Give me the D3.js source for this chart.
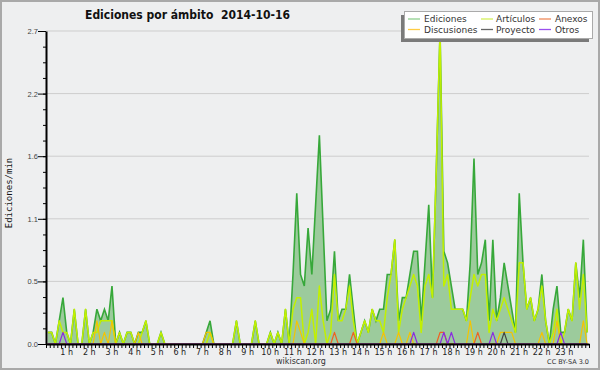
<!DOCTYPE html>
<html lang="es">
<head>
<meta charset="UTF-8">
<title>Ediciones por ámbito</title>
<script src="https://cdn.jsdelivr.net/npm/d3@7"></script>
<style>
    body { margin: 0; background: #eeeff0; }
    svg text { font-family: "DejaVu Sans", sans-serif; }
</style>
</head>
<body>
<div id="chart"></div>
<script>
    // 10-minute bins, edits per minute
    const ediciones = [
        0.1,0.1,0,0.2,0.4,0.1,0,0.3,0,0,0.3,0,
        0.1,0.3,0.2,0.3,0.2,0.5,0,0.1,0,0.1,0.1,0,
        0.1,0.1,0.2,0,0,0,0.1,0,0,0,0,0,
        0,0,0,0,0,0,0.1,0.2,0,0,0,0,
        0,0,0.2,0,0,0,0,0.2,0,0,0,0.1,
        0,0.1,0,0.3,0,0.6,1.3,0.6,0.5,1.0,0.6,1.2,
        1.8,1.0,0.2,0.3,0.8,0.2,0.3,0.3,0.6,0.3,0,0.1,
        0.2,0.1,0.3,0.2,0.3,0.3,0.6,0.6,0.9,0.2,0.4,0.4,
        0.6,0.8,0.8,0.2,0.7,1.2,0.4,1.5,2.7,0.8,0.7,0.5,
        0.3,0.3,0.3,0.2,0.7,1.6,0.6,0.7,0.9,0.2,0.9,0.2,
        0.4,0.7,0.5,0.3,0.1,1.3,0.7,0.3,0.4,0.2,0.3,0.6,
        0.2,0,0.3,0.5,0.1,0.1,0.3,0.2,0.7,0.4,0.9,0.1
    ];
    const articulos = [
        0.1,0.1,0,0.2,0.1,0.1,0,0.3,0,0,0.3,0,
        0.1,0.1,0.2,0.2,0.2,0.2,0,0.1,0,0.1,0.1,0,
        0,0.1,0.2,0,0,0,0.1,0,0,0,0,0,
        0,0,0,0,0,0,0,0.1,0,0,0,0,
        0,0,0.2,0,0,0,0,0.2,0,0,0,0.1,
        0,0.1,0,0.3,0,0.3,0.4,0.4,0,0.1,0.3,0,
        0.5,0.2,0,0.1,0.6,0.2,0.2,0.3,0.5,0.2,0,0.1,
        0.2,0.1,0.3,0.2,0.2,0.1,0.4,0.6,0.9,0.1,0.3,0.4,
        0.5,0.6,0.5,0.1,0.5,0.6,0.4,1.5,2.7,0.5,0.6,0.3,
        0.3,0.3,0.3,0.2,0.4,0.6,0.5,0.6,0.6,0.1,0.3,0.2,
        0.3,0.4,0.3,0.2,0.1,0.7,0.7,0.3,0.4,0.2,0.3,0.5,
        0.2,0,0.1,0.3,0,0.1,0.3,0.2,0.7,0.3,0.6,0.1
    ];
    const discusiones = [
        0,0,0,0,0,0,0,0,0,0,0,0,
        0,0.2,0,0.1,0,0.2,0,0,0,0,0,0,
        0.1,0,0,0,0,0,0,0,0,0,0,0,
        0,0,0,0,0,0,0.1,0.1,0,0,0,0,
        0,0,0,0,0,0,0,0,0,0,0,0,
        0,0,0,0,0,0,0.2,0.1,0,0,0,0,
        0,0,0,0,0,0,0,0,0,0,0,0,
        0,0,0,0,0,0.1,0,0,0,0.1,0,0,
        0.1,0,0,0,0,0,0,0,0,0,0,0,
        0,0,0,0,0.2,0,0,0,0,0,0,0,
        0.1,0.1,0.1,0.1,0,0,0,0,0,0,0,0.1,
        0,0,0,0.2,0,0,0,0,0,0,0.2,0
    ];
    const anexos = [
        0,0,0,0,0,0,0,0,0,0,0,0,
        0,0,0,0,0,0,0,0,0,0,0,0,
        0,0,0,0,0,0,0,0,0,0,0,0,
        0,0,0,0,0,0,0,0,0,0,0,0,
        0,0,0,0,0,0,0,0,0,0,0,0,
        0,0,0,0,0,0,0,0,0,0,0,0,
        0,0,0,0,0.1,0,0,0,0,0.1,0,0,
        0,0,0,0,0,0,0,0,0,0,0,0,
        0,0,0,0,0,0,0,0,0.1,0.1,0,0,
        0,0,0,0,0,0,0.1,0,0,0,0,0,
        0,0,0,0,0,0,0,0,0,0,0,0,
        0,0,0,0,0,0,0,0,0,0,0,0
    ];
    const proyecto = [
        0,0,0,0,0,0,0,0,0,0,0,0,
        0,0,0,0,0,0,0,0,0,0,0,0,
        0,0,0,0,0,0,0,0,0,0,0,0,
        0,0,0,0,0,0,0,0,0,0,0,0,
        0,0,0,0,0,0,0,0,0,0,0,0,
        0,0,0,0,0,0,0,0,0,0,0,0,
        0,0,0,0,0,0,0,0,0,0,0,0,
        0,0,0,0,0,0,0,0,0,0,0,0,
        0,0,0,0,0,0,0,0,0,0,0,0,
        0,0,0,0,0,0,0,0,0,0,0,0,
        0,0.1,0,0,0,0,0,0,0,0,0,0,
        0,0,0,0,0,0,0,0,0,0,0,0
    ];
    const otros = [
        0,0,0,0,0.1,0,0,0,0,0,0,0,
        0,0,0,0,0,0,0,0,0,0,0,0,
        0,0,0,0,0,0,0,0,0,0,0,0,
        0,0,0,0,0,0,0,0,0,0,0,0,
        0,0,0,0,0,0,0,0,0,0,0,0,
        0,0,0,0,0,0,0,0,0,0,0,0,
        0,0,0,0,0,0,0,0,0,0,0,0,
        0,0,0,0,0,0,0,0,0,0,0,0,
        0,0.1,0,0,0,0,0,0,0,0.1,0,0.1,
        0,0,0,0,0,0,0,0,0,0,0.1,0,
        0,0,0,0,0,0,0,0,0,0,0,0,
        0,0,0,0,0.1,0,0,0,0,0,0,0
    ];

    const hourTicks = [1,2,3,4,5,6,7,8,9,10,11,12,13,14,15,16,17,18,19,20,21,22,23];
    const hourLabels = ["1 h","2 h","3 h","4 h","5 h","6 h","7 h","8 h","9 h","10 h","11 h","12 h",
        "13 h","14 h","15 h","16 h","17 h","18 h","19 h","20 h","21 h","22 h","23 h"];
    const yTicks = [0, 0.54, 1.08, 1.62, 2.16, 2.7];
    const yTickLabels = ["0.0", "0.5", "1.1", "1.6", "2.2", "2.7"];

    const legendNames = ["Ediciones", "Artículos", "Anexos", "Discusiones", "Proyecto", "Otros"];
    const legendColors = ["#8fcf8f", "#d4f05a", "#f08a5a", "#ffcc44", "#666666", "#9a50ee"];

    var width = 600, height = 370;
    var margin = {top: 31, right: 11, bottom: 26, left: 46};

    var svg = d3.select("#chart").append("svg")
        .attr("width", width)
        .attr("height", height);

    svg.append("rect")
        .attr("x", 1).attr("y", 1)
        .attr("width", width - 2).attr("height", height - 2)
        .attr("fill", "#eeeff0")
        .attr("stroke", "#a9a9a9")
        .attr("stroke-width", 2);

    // hours of the day
    var x = d3.scaleLinear()
        .domain([0, 24])
        .range([margin.left, width - margin.right]);
    var y = d3.scaleLinear()
        .domain([0, 2.7])
        .range([height - margin.bottom, margin.top]);

    // bin i covers [10i, 10i+10) minutes, plotted at its centre
    function t(i) { return (i + 0.5) / 6; }

    // grid
    svg.append("g")
        .selectAll("line")
        .data(yTicks.slice(1))
        .join("line")
        .attr("x1", x(0)).attr("x2", x(24))
        .attr("y1", d => y(d)).attr("y2", d => y(d))
        .attr("stroke", "#cdcdcd")
        .attr("stroke-width", 1);

    var area = d3.area()
        .x((d, i) => x(t(i)))
        .y0(y(0))
        .y1(d => y(d));

    var line = d3.line()
        .x((d, i) => x(t(i)))
        .y(d => y(d));

    svg.append("path")
        .datum(ediciones)
        .attr("d", area)
        .attr("fill", "#9ccb9c");

    svg.append("path")
        .datum(ediciones)
        .attr("d", line)
        .attr("fill", "none")
        .attr("stroke", "#37a83a")
        .attr("stroke-width", 1.6);

    var series = [
        {values: articulos, color: "#c2f000", w: 1.5},
        {values: discusiones, color: "#f5c400", w: 1.2},
        {values: anexos, color: "#f06020", w: 1.2},
        {values: proyecto, color: "#444444", w: 1.2},
        {values: otros, color: "#8a2be2", w: 1.2}
    ];
    series.forEach(function (s) {
        svg.append("path")
            .datum(s.values)
            .attr("d", line)
            .attr("fill", "none")
            .attr("stroke", s.color)
            .attr("stroke-width", s.w)
            .attr("stroke-linejoin", "round");
    });

    // x axis: a tick every 10 minutes
    var xAxis = svg.append("g")
        .attr("transform", "translate(0," + y(0) + ")")
        .call(d3.axisBottom(x)
            .tickValues(d3.range(0, 145).map(k => k / 6))
            .tickSize(4)
            .tickSizeOuter(0)
            .tickFormat(""));
    xAxis.select(".domain").attr("stroke", "#000").attr("stroke-width", 2);
    xAxis.selectAll(".tick line").attr("stroke", "#000");

    svg.append("g")
        .selectAll("text")
        .data(hourTicks)
        .join("text")
        .attr("x", d => x(d) - 2)
        .attr("y", 355)
        .attr("text-anchor", "middle")
        .style("font-size", "8px")
        .attr("fill", "#222")
        .text((d, i) => hourLabels[i]);

    // y axis
    var yMinor = svg.append("g")
        .attr("transform", "translate(" + x(0) + ",0)")
        .call(d3.axisLeft(y)
            .tickValues(d3.range(0, 21).map(k => k * 2.7 / 20))
            .tickSize(3)
            .tickSizeOuter(0)
            .tickFormat(""));
    yMinor.select(".domain").remove();
    yMinor.selectAll(".tick line").attr("stroke", "#000");

    var yAxis = svg.append("g")
        .attr("transform", "translate(" + x(0) + ",0)")
        .call(d3.axisLeft(y)
            .tickValues(yTicks)
            .tickSize(8)
            .tickSizeOuter(0)
            .tickFormat((d, i) => yTickLabels[i]));
    yAxis.select(".domain").attr("stroke", "#000").attr("stroke-width", 2);
    yAxis.selectAll(".tick line").attr("stroke", "#000");
    yAxis.selectAll(".tick text")
        .attr("x", -8)
        .style("font-family", "'Liberation Sans', sans-serif")
        .style("font-size", "7.5px")
        .attr("fill", "#444");

    svg.append("text")
        .attr("transform", "translate(12," + 193 + ") rotate(-90)")
        .attr("text-anchor", "middle")
        .style("font-family", "'DejaVu Sans Mono', monospace")
        .style("font-size", "9px")
        .attr("fill", "#111")
        .text("Ediciones/min");

    // title
    svg.append("text")
        .attr("x", 85)
        .attr("y", 19)
        .style("font-size", "12px")
        .style("font-weight", "bold")
        .style("white-space", "pre")
        .attr("textLength", 205)
        .attr("lengthAdjust", "spacingAndGlyphs")
        .attr("fill", "#111")
        .text("Ediciones por ámbito  2014-10-16");

    // legend
    var legend = svg.append("g");
    legend.append("rect")
        .attr("x", 401).attr("y", 15)
        .attr("width", 188).attr("height", 27)
        .attr("fill", "#7a7a7a");
    legend.append("rect")
        .attr("x", 404.5).attr("y", 11.5)
        .attr("width", 188).attr("height", 27)
        .attr("fill", "#fff")
        .attr("stroke", "#aaa");

    var legX = [408, 481, 539];
    var legY = [19, 29.5];
    legendNames.forEach(function (name, k) {
        var cx = legX[k % 3], cy = legY[Math.floor(k / 3)];
        legend.append("line")
            .attr("x1", cx).attr("x2", cx + 12)
            .attr("y1", cy).attr("y2", cy)
            .attr("stroke", legendColors[k])
            .attr("stroke-width", 1.3);
        legend.append("text")
            .attr("x", cx + (k % 3 === 0 ? 16 : (k % 3 === 1 ? 15 : 16)))
            .attr("y", cy + 3.3)
            .style("font-size", "9px")
            .attr("fill", "#333")
            .text(name);
    });

    svg.append("text")
        .attr("x", 301)
        .attr("y", 364)
        .attr("text-anchor", "middle")
        .style("font-size", "8px")
        .attr("fill", "#333")
        .text("wikiscan.org");

    svg.append("text")
        .attr("x", 589)
        .attr("y", 364)
        .attr("text-anchor", "end")
        .style("font-size", "6.5px")
        .attr("fill", "#333")
        .text("CC BY-SA 3.0");
</script>
</body>
</html>
